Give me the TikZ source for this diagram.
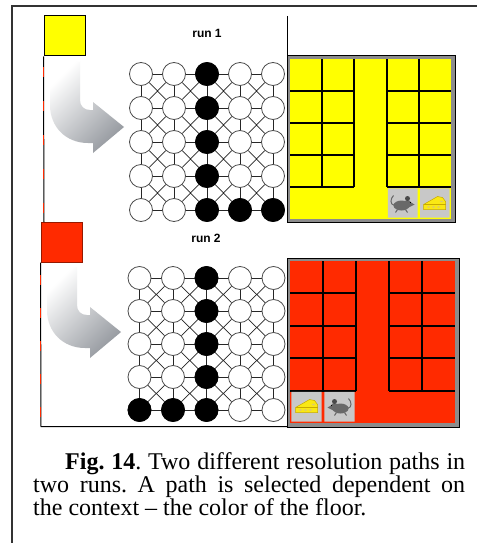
\documentclass[tikz,border=0pt]{standalone}
\usepackage{fontspec}
\setmainfont{Liberation Serif}
\setsansfont{Liberation Sans}
\usetikzlibrary{calc,backgrounds}

\definecolor{floorYellow}{RGB}{255,255,0}
\definecolor{floorRed}{RGB}{255,42,0}
\definecolor{darkRed}{RGB}{150,25,0}
\definecolor{frameGray}{RGB}{140,140,140}
\definecolor{tileGray}{RGB}{200,200,200}
\definecolor{arrowGray}{RGB}{150,154,160}
\definecolor{mouseGray}{RGB}{105,105,105}
\definecolor{cheeseYellow}{RGB}{250,232,20}
\definecolor{cheeseEdge}{RGB}{200,170,0}

\tikzset{
  unit/.style={circle,draw=black!70,fill=white,line width=0.8pt,minimum size=23pt,inner sep=0pt},
  active/.style={unit,fill=black,draw=black},
  link/.style={black!85,line width=0.7pt},
  wall/.style={black,line width=2pt},
  panel/.style={black,line width=1pt},
  cue/.style={draw=black,line width=1pt,minimum width=41pt,minimum height=40pt,inner sep=0pt},
  runlabel/.style={font=\sffamily\bfseries\fontsize{12}{14}\selectfont},
  pics/mouse/.style={code={
    \draw[mouseGray,line width=1pt] (-8,2) .. controls (-13,1) and (-12,-5) .. (-9,-8);
    \fill[mouseGray] (-1,2) ellipse (8 and 5);
    \fill[mouseGray] (5,-3) -- (12,1) -- (6,4) -- cycle;
    \fill[mouseGray] (5,0) circle (3.5);
    \fill[mouseGray!70!black] (5,-5) circle (2.5);
    \fill[black] (8,-1) circle (0.7);
    \draw[mouseGray,line width=1pt] (-5,6) -- (-7,9) (3,6) -- (5,9);
  }},
  pics/cheese/.style={code={
    \fill[cheeseYellow,draw=cheeseEdge,line width=0.5pt] (-11,6) -- (-11,1) -- (3,-7) -- (8,-6) -- (11,-2) -- (11,6) -- cycle;
    \draw[cheeseEdge,line width=0.5pt] (-11,1) -- (11,1);
    \foreach \hx/\hy in {-6/3.5,-1/3.5,4/3.5,7/-2} \fill[cheeseEdge!60!white] (\hx,\hy) ellipse (1.8 and 1);
  }}
}

\begin{document}
\begin{tikzpicture}[x=1pt,y=-1pt]
  \useasboundingbox (0,0) rectangle (477,543);
  \begin{scope}[on background layer]
    \fill[white] (0,0) rectangle (477,543);
  \end{scope}
  \draw[black!80,line width=2pt] (12,543) -- (12,6) -- (477,6);

  \node[cue,fill=floorYellow] (cue1) at (64.5,36) {};
  \node[cue,fill=floorRed,draw=darkRed] (cue2) at (61.5,242) {};
  \node[runlabel] (run1) at (207,33) {run 1};
  \node[runlabel] (run2) at (206,238) {run 2};

  \draw[panel] (cue1.south west) -- (44,222);
  \draw[floorRed,line width=1.2pt,dash pattern=on 10pt off 24pt] (43.4,67) -- (43.4,222);
  \draw[panel] (287,16) -- (287,55);
  \draw[panel] (cue2.south west) -- (41,426.5) -- (459,426.5);
  \draw[floorRed,line width=1.2pt,dash pattern=on 10pt off 23pt] (40.4,275) -- (40.4,420);

  \foreach \dx/\dy in {0/0,-3/205}{
    \begin{scope}[shift={(\dx,\dy)}]
      \shade[top color=white,bottom color=arrowGray,shading angle=45]
        (50,62) -- (80,62) -- (80,100) .. controls (80,106) and (84,110) .. (90,110) -- (93,110)
        -- (93,102) -- (124,127) -- (93,153) -- (93,143) -- (88,143)
        .. controls (66,143) and (50,127) .. (50,105) -- cycle;
    \end{scope}
  }

  \draw[black,fill=frameGray] (287,55) rectangle (455.5,222);
  \begin{scope}[shift={(290,59)},x=32.2pt,y=-32pt]
    \fill[floorYellow] (0,0) rectangle (5,5);
    \foreach \k in {1,...,4} \draw[wall] (0,\k) -- (2,\k) (3,\k) -- (5,\k);
    \foreach \k in {1,2,3,4} \draw[wall] (\k,0) -- (\k,4);
    \fill[tileGray] (3.04,4.04) rectangle (3.96,4.96) (4.04,4.04) rectangle (4.96,4.96);
  \end{scope}
  \pic at (402.5,203.5) {mouse};
  \pic at (434.5,203.5) {cheese};

  \draw[black,fill=frameGray] (287,258) rectangle (459,427);
  \begin{scope}[shift={(290,261)},x=33pt,y=-32.4pt]
    \fill[floorRed] (0,0) rectangle (5,5);
    \foreach \k in {1,...,4} \draw[wall] (0,\k) -- (2,\k) (3,\k) -- (5,\k);
    \foreach \k in {1,2,3,4} \draw[wall] (\k,0) -- (\k,4);
    \fill[tileGray] (0.04,4.04) rectangle (0.96,4.96) (1.04,4.04) rectangle (1.96,4.96);
  \end{scope}
  \pic at (306.5,406.5) {cheese};
  \pic[xscale=-1] at (339.5,406.5) {mouse};

  \foreach \net/\xo/\dx/\yo/\dy in {a/108/33/40/34,b/106/33.5/245/33}{
    \foreach \r in {1,...,5}
      \foreach \c in {1,...,5}
        \node[unit] (\net\r\c) at ({\xo+\dx*\c},{\yo+\dy*\r}) {};
    \begin{scope}[on background layer]
      \foreach \r in {1,...,5}
        \foreach \c [count=\n from 2] in {1,...,4}
          \draw[link] (\net\r\c) -- (\net\r\n) (\net\c\r) -- (\net\n\r);
      \foreach \r [count=\s from 2] in {1,...,4}
        \foreach \c [count=\n from 2] in {1,...,4}
          \draw[link] (\net\r\c) -- (\net\s\n) (\net\r\n) -- (\net\s\c);
    \end{scope}
  }
  \foreach \r/\c in {1/3,2/3,3/3,4/3,5/3,5/4,5/5}
    \node[active] (pa\r\c) at (a\r\c) {};
  \foreach \r/\c in {1/3,2/3,3/3,4/3,5/3,5/1,5/2}
    \node[active] (pb\r\c) at (b\r\c) {};

  \node[anchor=north west,text width=432pt,align=justify,inner sep=0pt,
        font=\fontsize{24}{23}\selectfont\frenchspacing] (caption) at (33,452)
    {\hspace*{32pt}\textbf{Fig. 14}. Two different resolution paths in\linebreak
     two runs. A path is selected dependent on\linebreak
     the context -- the color of the floor.};
\end{tikzpicture}
\end{document}
